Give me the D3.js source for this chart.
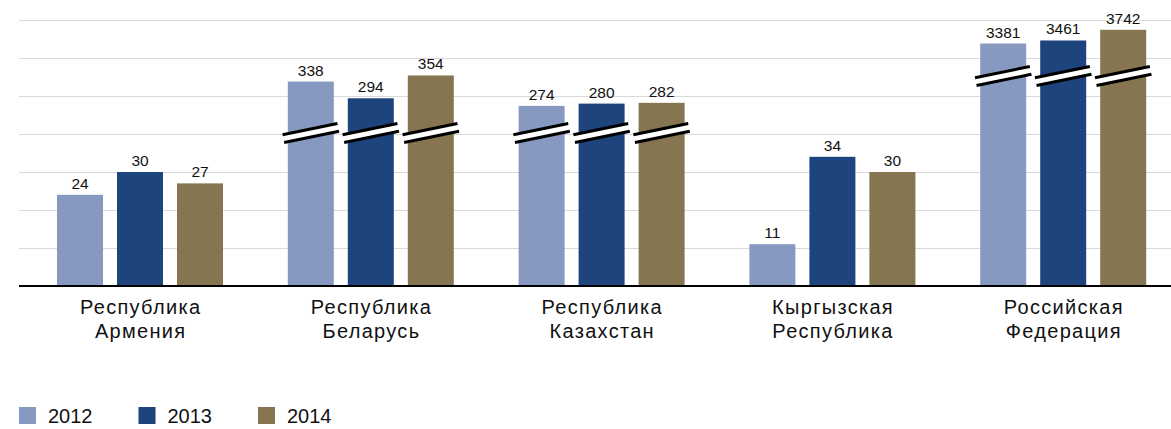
<!DOCTYPE html>
<html>
<head>
<meta charset="utf-8">
<script src="https://cdn.jsdelivr.net/npm/d3@7/dist/d3.min.js"></script>
<style>
  html, body { margin: 0; padding: 0; background: #ffffff; }
  svg { display: block; font-family: "Liberation Sans", Arial, Helvetica, sans-serif; }
</style>
</head>
<body>
<svg id="chart" width="1171" height="429"></svg>
<script>
// Categories (two-line labels) and yearly series
const categories = [
  ["Республика", "Армения"],
  ["Республика", "Беларусь"],
  ["Республика", "Казахстан"],
  ["Кыргызская", "Республика"],
  ["Российская", "Федерация"]
];
const years = ["2012", "2013", "2014"];
const values2012 = [24, 338, 274, 11, 3381];
const values2013 = [30, 294, 280, 34, 3461];
const values2014 = [27, 354, 282, 30, 3742];
const seriesValues = [values2012, values2013, values2014];

// Axis break per category: [lower value, upper value, compression of the upper part]; null = no break
const axisBreaks = [null, [40, 200, 10], [40, 200, 10], null, [55, 2500, 100]];

const colors = ["#8799c0", "#1d447c", "#857550"];

const plot = { left: 19, right: 1171, top: 20, bottom: 286 };
const svg = d3.select("#chart");

// Base value scale: gridlines every 10 units
const y = d3.scaleLinear().domain([0, 70]).range([plot.bottom, plot.top]);

// Per-category scale: a polylinear scale that compresses values above the break
function groupScale(i) {
  const b = axisBreaks[i];
  if (!b) return y;
  const [lo, hi, k] = b;
  const top = hi + (70 - lo) * k;
  return d3.scaleLinear()
    .domain([0, lo, hi, top])
    .range([y(0), y(lo), y(lo), y(70)]);
}

// Category bands and inner year bands
const x0 = d3.scaleBand()
  .domain(d3.range(categories.length))
  .range([26, 1180]);
const x1 = d3.scaleBand()
  .domain(years)
  .range([31, 197])
  .paddingInner(14 / 60);
const groupCenter = (x1.range()[0] + x1.range()[1]) / 2;

// Gridlines
svg.append("g")
  .selectAll("line")
  .data(y.ticks(7).filter(t => t > 0))
  .join("line")
  .attr("x1", plot.left).attr("x2", plot.right)
  .attr("y1", d => Math.round(y(d)) + 0.5).attr("y2", d => Math.round(y(d)) + 0.5)
  .attr("stroke", "#d9d9d9").attr("stroke-width", 1.2);

// Bars
const groups = svg.append("g").selectAll("g")
  .data(categories.map((c, i) => ({ i, c })))
  .join("g")
  .attr("transform", d => `translate(${x0(d.i)},0)`);

groups.each(function (g) {
  const sc = groupScale(g.i);
  const sel = d3.select(this);
  const bars = years.map((yr, s) => ({ yr, s, v: seriesValues[s][g.i] }));

  sel.selectAll("rect.bar")
    .data(bars)
    .join("rect")
    .attr("class", "bar")
    .attr("x", d => x1(d.yr))
    .attr("width", x1.bandwidth())
    .attr("y", d => sc(d.v))
    .attr("height", d => sc(0) - sc(d.v))
    .attr("fill", d => colors[d.s]);

  sel.selectAll("text.val")
    .data(bars)
    .join("text")
    .attr("class", "val")
    .attr("x", d => x1(d.yr) + x1.bandwidth() / 2)
    .attr("y", d => sc(d.v) - 6)
    .attr("text-anchor", "middle")
    .attr("font-size", 15.5)
    .attr("fill", "#111")
    .text(d => d.v);

  // Break marks: a white slanted band edged by two black strokes
  const b = axisBreaks[g.i];
  if (b) {
    const yb = y(b[0]) - 1;
    bars.forEach(d => {
      const cx = x1(d.yr) + x1.bandwidth() / 2;
      const w = x1.bandwidth() + 10;
      const m = sel.append("g")
        .attr("transform", `translate(${cx},${yb}) rotate(-11.5)`);
      m.append("rect")
        .attr("x", -w / 2).attr("y", -4)
        .attr("width", w).attr("height", 8)
        .attr("fill", "#fff");
      [-4, 4].forEach(off => {
        m.append("line")
          .attr("x1", -w / 2).attr("x2", w / 2)
          .attr("y1", off).attr("y2", off)
          .attr("stroke", "#000").attr("stroke-width", 3);
      });
    });
  }

  // Category label
  sel.append("text")
    .attr("text-anchor", "middle")
    .attr("font-size", 20)
    .attr("letter-spacing", 1.3)
    .attr("fill", "#111")
    .selectAll("tspan")
    .data(g.c)
    .join("tspan")
    .attr("x", groupCenter + 0.65)
    .attr("y", (d, k) => 314 + k * 24)
    .text(d => d);
});

// Baseline
svg.append("line")
  .attr("x1", plot.left).attr("x2", plot.right)
  .attr("y1", y(0)).attr("y2", y(0))
  .attr("stroke", "#000").attr("stroke-width", 2.2);

// Legend
const legend = svg.append("g").selectAll("g")
  .data(years)
  .join("g")
  .attr("transform", (d, i) => `translate(${19 + i * 119.5},407)`);
legend.append("rect")
  .attr("width", 17).attr("height", 17)
  .attr("fill", (d, i) => colors[i]);
legend.append("text")
  .attr("x", 29).attr("y", 16)
  .attr("font-size", 20)
  .attr("fill", "#111")
  .text(d => d);
</script>
</body>
</html>
